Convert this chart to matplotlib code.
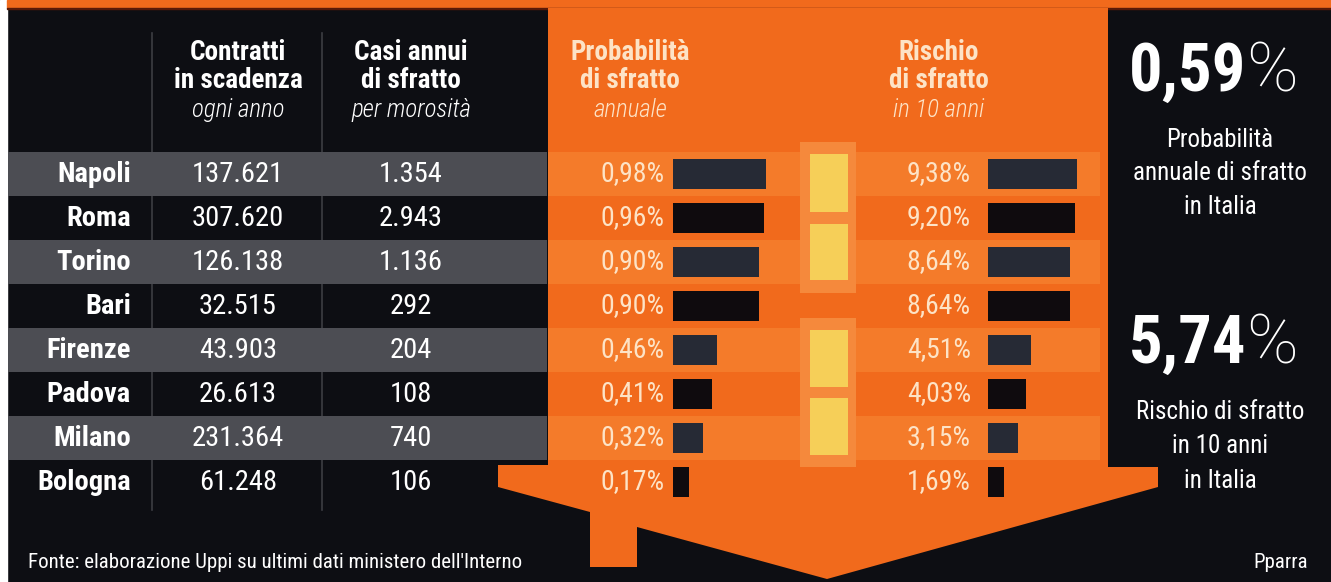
import matplotlib
matplotlib.use('Agg')
import matplotlib.pyplot as plt
from matplotlib.patches import Polygon, Rectangle

# ---------------- data ----------------
cities = ['Napoli', 'Roma', 'Torino', 'Bari', 'Firenze', 'Padova', 'Milano', 'Bologna']
contratti = [137621, 307620, 126138, 32515, 43903, 26613, 231364, 61248]
casi = [1354, 2943, 1136, 292, 204, 108, 740, 106]
prob_annua = [0.98, 0.96, 0.90, 0.90, 0.46, 0.41, 0.32, 0.17]
rischio_10 = [9.38, 9.20, 8.64, 8.64, 4.51, 4.03, 3.15, 1.69]

head_contratti = ['Contratti', 'in scadenza', 'ogni anno']
head_casi = ['Casi annui', 'di sfratto', 'per morosità']
head_prob = ['Probabilità', 'di sfratto', 'annuale']
head_risk = ['Rischio', 'di sfratto', 'in 10 anni']

italia_prob = 0.59
italia_prob_lbl = ['Probabilità', 'annuale di sfratto', 'in Italia']
italia_risk = 5.74
italia_risk_lbl = ['Rischio di sfratto', 'in 10 anni', 'in Italia']

fonte = "Fonte: elaborazione Uppi su ultimi dati ministero dell'Interno"
firma = 'Pparra'

# ---------------- style ----------------
W, H = 1331, 582
DARK = '#0d0e13'
GRAY = '#4c4d53'
ORANGE = '#f16a1c'
ORANGE_L = '#f47b2a'
FRAME = '#f5893c'
YELLOW = '#f6cf58'
CREAM = '#fde3c6'
BAR_A = '#262a35'
BAR_B = '#0f0b0e'
NARROW = ['Roboto Condensed', 'DejaVu Sans Condensed', 'Roboto']
WIDE = ['Roboto', 'DejaVu Sans']

def fmt_int(v):
    return f"{v:,}".replace(',', '.')

def fmt_num(v):
    return f"{v:.2f}".replace('.', ',')

def fmt_pct(v):
    return fmt_num(v) + '%'

fig = plt.figure(figsize=(W / 100, H / 100), dpi=100)

# ---------------- background / decoration (pixel coords) ----------------
bg = fig.add_axes([0, 0, 1, 1], zorder=0)
bg.set_xlim(0, W)
bg.set_ylim(H, 0)
bg.axis('off')
bg.add_patch(Rectangle((0, 0), W, H, color=DARK))
bg.add_patch(Rectangle((0, 0), 7, H, color='white'))
bg.add_patch(Rectangle((7, 0), W - 7, 8, color=ORANGE))
bg.add_patch(Rectangle((7, 7.5), W - 7, 1.5, color='#5a1a08'))
arrow = [(548, 8), (1108, 8), (1108, 467), (1158, 467), (1158, 487), (827, 579),
         (637, 527), (637, 567), (590, 567), (590, 512), (498, 487), (498, 465),
         (548, 465)]
bg.add_patch(Polygon(arrow, closed=True, color=ORANGE, lw=0))

# column separators
for x in (152, 322):
    bg.plot([x, x], [33, 510], color='#3c3d43', lw=1.2)

# headers
hy = [52, 81, 110]
for cx, lines, col in [(238, head_contratti, 'white'), (411, head_casi, 'white'),
                       (630, head_prob, CREAM), (939, head_risk, CREAM)]:
    for k, (y, t) in enumerate(zip(hy, lines)):
        if k < 2:
            bg.text(cx, y, t, ha='center', va='center', color=col, fontsize=19.5,
                    fontweight='bold', family=NARROW)
        else:
            bg.text(cx, y, t, ha='center', va='center', color=col, fontsize=18,
                    style='italic', fontweight='light', family=NARROW)

# right panel
def big_number(y, value):
    bg.text(1246, y, fmt_num(value), ha='right', va='center', color='white',
            fontsize=48, fontweight='bold', family=NARROW)
    bg.text(1246, y, '%', ha='left', va='center', color='white',
            fontsize=50, fontweight='light', family=WIDE)

big_number(73, italia_prob)
for y, t in zip([140, 173, 207], italia_prob_lbl):
    bg.text(1220, y, t, ha='center', va='center', color='white', fontsize=18, family=NARROW)
big_number(345, italia_risk)
for y, t in zip([412, 446, 481], italia_risk_lbl):
    bg.text(1220, y, t, ha='center', va='center', color='white', fontsize=18, family=NARROW)

bg.text(28, 562, fonte, ha='left', va='center', color='white', fontsize=15, family=NARROW)
bg.text(1308, 562, firma, ha='right', va='center', color='white', fontsize=15, family=NARROW)

# ---------------- table rows ----------------
n = len(cities)
top_px, bot_px = 152, 504
tab = fig.add_axes([0, (H - bot_px) / H, 1, (bot_px - top_px) / H], zorder=1)
tab.set_xlim(0, W)
tab.set_ylim(n - 0.5, -0.5)
tab.axis('off')
tab.patch.set_alpha(0)
for i in range(n):
    if i % 2 == 0:
        tab.axhspan(i - 0.5, i + 0.5, xmin=8 / W, xmax=547 / W, color=GRAY, lw=0)
        tab.axhspan(i - 0.5, i + 0.5, xmin=548 / W, xmax=1100 / W, color=ORANGE_L, lw=0)
for i, c in enumerate(cities):
    tab.text(131, i, c, ha='right', va='center', color='white', fontsize=20.5,
             fontweight='bold', family=NARROW)
    tab.text(238, i, fmt_int(contratti[i]), ha='center', va='center', color='white',
             fontsize=20.5, family=NARROW)
    tab.text(411, i, fmt_int(casi[i]), ha='center', va='center', color='white',
             fontsize=20.5, family=NARROW)
    tab.text(665, i, fmt_pct(prob_annua[i]), ha='right', va='center', color=CREAM,
             fontsize=20, family=NARROW)
    tab.text(971, i, fmt_pct(rischio_10[i]), ha='right', va='center', color=CREAM,
             fontsize=20, family=NARROW)

# window decoration overlay (above stripes)
deco = fig.add_axes([0, 0, 1, 1], zorder=1.5)
deco.set_xlim(0, W)
deco.set_ylim(H, 0)
deco.axis('off')
deco.patch.set_alpha(0)
for (fy0, fy1, boxes) in [(142, 293, [(154, 212), (224, 280)]),
                          (318, 467, [(330, 387), (398, 455)])]:
    deco.add_patch(Rectangle((800, fy0), 56, fy1 - fy0, color=FRAME, lw=0))
    for (y0, y1) in boxes:
        deco.add_patch(Rectangle((810, y0), 38, y1 - y0, color=YELLOW, lw=0))

bar_colors = [BAR_A if i % 2 == 0 else BAR_B for i in range(n)]

axp = fig.add_axes([673 / W, (H - bot_px) / H, 95 / W, (bot_px - top_px) / H], zorder=2)
axp.set_xlim(0, 1.0)
axp.set_ylim(n - 0.5, -0.5)
axp.axis('off')
axp.patch.set_alpha(0)
axp.barh(range(n), prob_annua, height=0.70, color=bar_colors, lw=0)

axr = fig.add_axes([988 / W, (H - bot_px) / H, 95 / W, (bot_px - top_px) / H], zorder=2)
axr.set_xlim(0, 10.0)
axr.set_ylim(n - 0.5, -0.5)
axr.axis('off')
axr.patch.set_alpha(0)
axr.barh(range(n), rischio_10, height=0.70, color=bar_colors, lw=0)

fig.savefig('out.png', dpi=100, facecolor=DARK)
